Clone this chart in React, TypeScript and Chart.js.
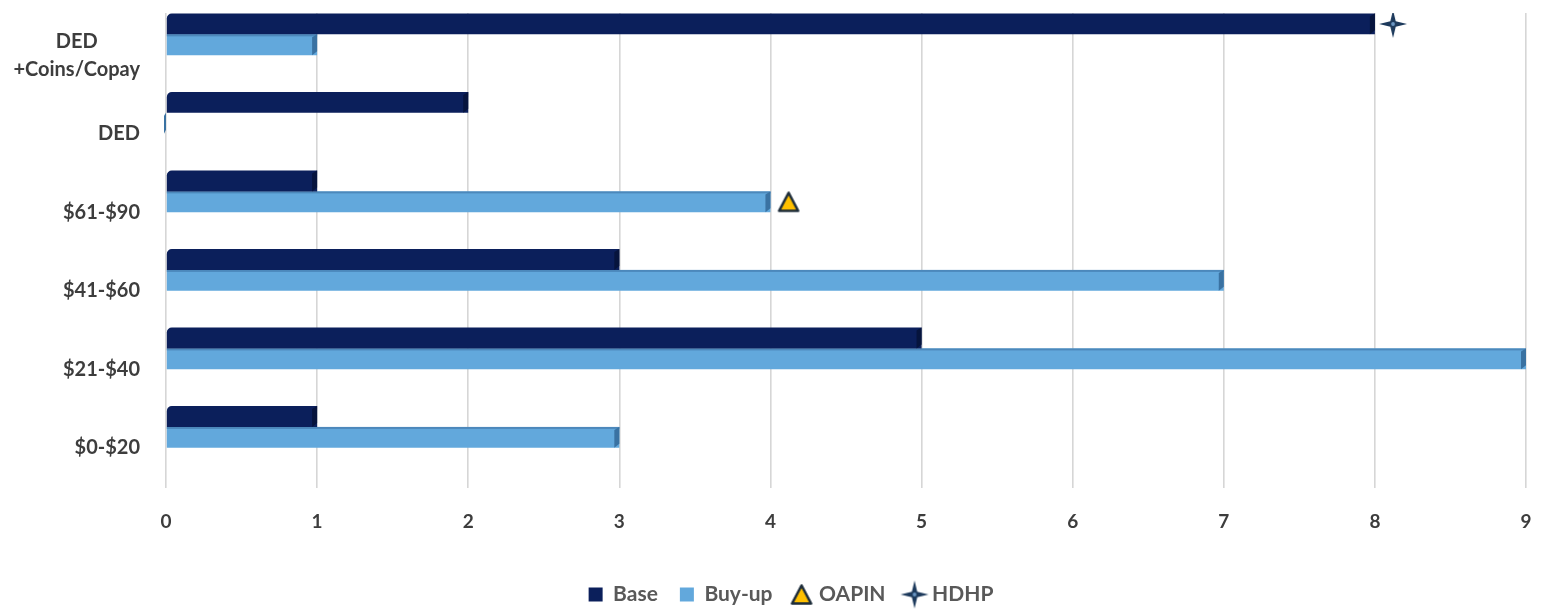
import { useEffect, useRef } from "react";
import { Chart, registerables } from "chart.js";

Chart.register(...registerables);

// Copay tiers, listed top to bottom
const categories: string[][] = [
  ["DED", "+Coins/Copay"],
  ["DED"],
  ["$61-$90"],
  ["$41-$60"],
  ["$21-$40"],
  ["$0-$20"],
];
const baseValues = [8, 2, 1, 3, 5, 1];
const buyUpValues = [1, 0, 4, 7, 9, 3];
// Single-plan markers: category index and value
const oapinCategory = [2];
const oapinValues = [4.12];
const hdhpCategory = [0];
const hdhpValues = [8.12];
const xTickValues = [0, 1, 2, 3, 4, 5, 6, 7, 8, 9];

const BASE_COLOR = "#0b1f5b";
const BASE_END = "#06143d";
const BUY_COLOR = "#62a8dc";
const BUY_END = "#3a72a2";
const BUY_TOP = "#4c88bb";
const LABEL_COLOR = "#3d3d3d";
const LEGEND_COLOR = "#595959";
const FONT_FAMILY = "Lato, 'Open Sans', sans-serif";

const GROUP_PCT = 0.53; // share of each category band taken by the two bars
const ROW_SHIFT = GROUP_PCT / 4; // centre of each bar within the band

function makeStar(): HTMLCanvasElement {
  const c = document.createElement("canvas");
  const s = 30;
  c.width = s;
  c.height = s;
  const g = c.getContext("2d")!;
  const m = s / 2;
  const r = s / 2 - 1;
  const k = 2.7;
  g.beginPath();
  g.moveTo(m, m - r);
  g.lineTo(m + k, m - k);
  g.lineTo(m + r, m);
  g.lineTo(m + k, m + k);
  g.lineTo(m, m + r);
  g.lineTo(m - k, m + k);
  g.lineTo(m - r, m);
  g.lineTo(m - k, m - k);
  g.closePath();
  g.fillStyle = "#1d3a5c";
  g.fill();
  g.beginPath();
  g.arc(m, m, 1.9, 0, Math.PI * 2);
  g.fillStyle = "#6b97c4";
  g.fill();
  return c;
}

function makeTriangle(): HTMLCanvasElement {
  const c = document.createElement("canvas");
  const w = 24;
  const h = 23;
  c.width = w;
  c.height = h;
  const g = c.getContext("2d")!;
  g.beginPath();
  g.moveTo(w / 2, 2.5);
  g.lineTo(w - 2.5, h - 2.5);
  g.lineTo(2.5, h - 2.5);
  g.closePath();
  g.fillStyle = "#ffc000";
  g.fill();
  g.lineJoin = "round";
  g.lineWidth = 2.6;
  g.strokeStyle = "#1e2d3a";
  g.stroke();
  return c;
}

// Shaded end faces that give the bars their raised look
const barFacesPlugin = {
  id: "barFaces",
  afterDatasetDraw(chart: any, args: any) {
    const i = args.index;
    if (i > 1) return;
    const { ctx } = chart;
    const meta = chart.getDatasetMeta(i);
    ctx.save();
    meta.data.forEach((el: any) => {
      const top = el.y - el.height / 2;
      const bottom = el.y + el.height / 2;
      const right = el.x;
      const left = Math.max(el.base - 2, right - 5);
      if (i === 1) {
        ctx.fillStyle = BUY_TOP;
        ctx.fillRect(el.base, top, Math.max(0, right - el.base), 2);
      }
      ctx.beginPath();
      ctx.moveTo(left, top + 3);
      ctx.lineTo(right, top);
      ctx.lineTo(right, bottom - 4);
      ctx.lineTo(left, bottom);
      ctx.closePath();
      ctx.fillStyle = i === 0 ? BASE_END : BUY_END;
      ctx.fill();
    });
    ctx.restore();
  },
};

// Category names on the left, multi-line names centred on their widest line
const categoryLabelsPlugin = {
  id: "categoryLabels",
  afterDraw(chart: any) {
    const { ctx } = chart;
    const yScale = chart.scales.y;
    const right = yScale.right - 26;
    ctx.save();
    ctx.font = `bold 20px ${FONT_FAMILY}`;
    ctx.fillStyle = LABEL_COLOR;
    ctx.textAlign = "center";
    ctx.textBaseline = "middle";
    categories.forEach((lines, idx) => {
      const blockW = Math.max(...lines.map((l) => ctx.measureText(l).width));
      const cx = right - blockW / 2;
      const cy = yScale.getPixelForValue(idx) + 21;
      lines.forEach((line, j) => {
        ctx.fillText(line, cx, cy + (j - (lines.length - 1) / 2) * 28);
      });
    });
    ctx.restore();
  },
};

export default function App() {
  const canvasRef = useRef<HTMLCanvasElement | null>(null);

  useEffect(() => {
    document.body.style.margin = "0";
    const canvas = canvasRef.current;
    if (!canvas) return;
    const star = makeStar();
    const tri = makeTriangle();

    const chart = new Chart(canvas, {
      type: "bar",
      data: {
        datasets: [
          {
            label: "Base",
            data: baseValues.map((v, i) => ({ x: v, y: i })),
            backgroundColor: BASE_COLOR,
            borderWidth: 0,
            borderRadius: { topLeft: 5, topRight: 0, bottomLeft: 0, bottomRight: 0 },
            borderSkipped: false,
            pointStyle: "rect",
            categoryPercentage: GROUP_PCT,
            barPercentage: 1,
          } as any,
          {
            label: "Buy-up",
            data: buyUpValues.map((v, i) => ({ x: v, y: i })),
            backgroundColor: BUY_COLOR,
            borderWidth: 0,
            pointStyle: "rect",
            categoryPercentage: GROUP_PCT,
            barPercentage: 1,
          } as any,
          {
            type: "scatter",
            label: "OAPIN",
            data: oapinValues.map((v, k) => ({ x: v, y: oapinCategory[k] + ROW_SHIFT })),
            pointStyle: tri,
            pointRadius: 10,
            showLine: false,
          } as any,
          {
            type: "scatter",
            label: "HDHP",
            data: hdhpValues.map((v, k) => ({ x: v, y: hdhpCategory[k] - ROW_SHIFT })),
            pointStyle: star,
            pointRadius: 12,
            showLine: false,
          } as any,
        ],
      },
      options: {
        indexAxis: "y",
        responsive: false,
        animation: false,
        layout: { padding: { top: 10, right: 16, left: 56, bottom: -3 } },
        scales: {
          x: {
            type: "linear",
            min: xTickValues[0],
            max: xTickValues[xTickValues.length - 1],
            afterBuildTicks: (scale: any) => {
              scale.ticks = xTickValues.map((v) => ({ value: v }));
            },
            afterFit: (scale: any) => {
              scale.height = 74;
              scale.paddingLeft = 0;
              scale.paddingRight = 0;
            },
            grid: { color: "#d6d6d6", lineWidth: 1.6, drawTicks: false },
            border: { display: false },
            ticks: {
              padding: 22,
              color: LABEL_COLOR,
              font: { family: FONT_FAMILY, size: 19, weight: "bold" },
            },
          },
          y: {
            type: "linear",
            reverse: true,
            offset: false,
            min: -0.272,
            max: 5.778,
            afterBuildTicks: (scale: any) => {
              scale.ticks = categories.map((_, i) => ({ value: i }));
            },
            afterFit: (scale: any) => {
              scale.width = 110;
            },
            grid: { display: false },
            border: { display: false },
            ticks: { display: false },
          },
        },
        plugins: {
          legend: {
            position: "bottom",
            labels: {
              usePointStyle: true,
              boxWidth: 14,
              boxHeight: 14,
              padding: 22,
              color: LEGEND_COLOR,
              font: { family: FONT_FAMILY, size: 21, weight: "bold" },
            },
          },
          tooltip: { enabled: false },
        },
      } as any,
      plugins: [barFacesPlugin, categoryLabelsPlugin],
    });

    return () => chart.destroy();
  }, []);

  return <canvas ref={canvasRef} width={1542} height={612} style={{ display: "block" }} />;
}
